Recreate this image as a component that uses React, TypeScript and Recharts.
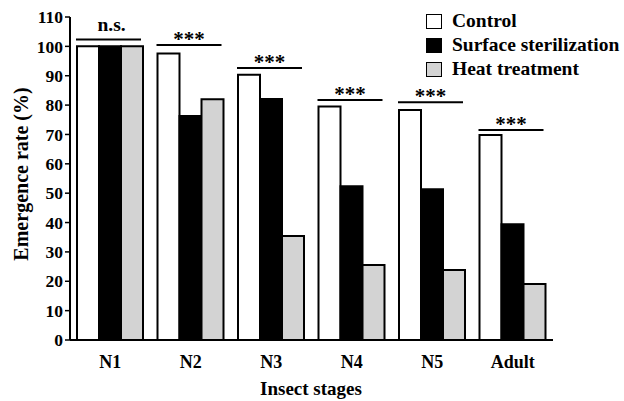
import { BarChart, Bar, XAxis, YAxis, LabelList } from 'recharts'

const stages = ['N1', 'N2', 'N3', 'N4', 'N5', 'Adult']
const control = [100, 97.6, 90.3, 79.5, 78.3, 69.8]
const surface = [100, 76.3, 82.1, 52.4, 51.3, 39.4]
const heat = [100, 82, 35.4, 25.5, 23.8, 19.1]
const sigLabels = ['n.s.', '***', '***', '***', '***', '***']
const sigLevel = [102.3, 100.5, 92.6, 81.7, 81, 71.5]
const yTicks = [0, 10, 20, 30, 40, 50, 60, 70, 80, 90, 100, 110]

const series = [
  { key: 'control', name: 'Control', fill: '#ffffff' },
  { key: 'surface', name: 'Surface sterilization', fill: '#000000' },
  { key: 'heat', name: 'Heat treatment', fill: '#d3d3d3' },
]

const data = stages.map((stage, i) => ({
  stage,
  control: control[i],
  surface: surface[i],
  heat: heat[i],
}))

const FONT = '"Liberation Serif", "Times New Roman", serif'

function SigMark(props: any) {
  const { x, y, width, height, value, index } = props
  const pxPerUnit = height / value
  const lineY = y - (sigLevel[index] - value) * pxPerUnit
  const x1 = x - 1
  const x2 = x + width * 3 - 2
  const cx = (x1 + x2) / 2
  const label = sigLabels[index]
  const isStars = label === '***'
  return (
    <g>
      <line x1={x1} x2={x2} y1={lineY} y2={lineY} stroke="#000" strokeWidth={2} />
      <text
        x={isStars ? cx : cx + 3}
        y={isStars ? lineY + 1 : lineY - 9}
        textAnchor="middle"
        fontFamily={FONT}
        fontWeight="bold"
        fontSize={isStars ? 21 : 19.5}
        fill="#000"
      >
        {label}
      </text>
    </g>
  )
}

function LegendBox() {
  return (
    <div
      style={{
        position: 'absolute',
        top: 9,
        left: 426,
        fontFamily: FONT,
        fontWeight: 'bold',
        fontSize: 19.5,
        color: '#000',
      }}
    >
      {series.map(s => (
        <div key={s.key} style={{ display: 'flex', alignItems: 'center', height: 24 }}>
          <span
            style={{
              display: 'inline-block',
              width: 14,
              height: 13,
              background: s.fill,
              border: '1.5px solid #000',
              marginRight: 10,
            }}
          />
          <span>{s.name}</span>
        </div>
      ))}
    </div>
  )
}

export default function App() {
  return (
    <div style={{ position: 'absolute', left: 0, top: 0, width: 624, height: 401, background: '#fff' }}>
      <BarChart
        width={624}
        height={401}
        data={data}
        margin={{ top: 17, right: 71, bottom: 31, left: 0 }}
        barCategoryGap={7}
        barGap={0}
      >
        <XAxis
          dataKey="stage"
          height={30}
          axisLine={{ stroke: '#000', strokeWidth: 2 }}
          tickLine={false}
          tickMargin={9}
          tick={{ fill: '#000', fontSize: 18, fontWeight: 'bold', fontFamily: FONT }}
          label={{
            content: () => (
              <text x={311} y={395} textAnchor="middle" fontFamily={FONT} fontWeight="bold" fontSize={19} fill="#000">
                Insect stages
              </text>
            ),
          }}
        />
        <YAxis
          width={70}
          domain={[0, 110]}
          ticks={yTicks}
          interval={0}
          axisLine={{ stroke: '#000', strokeWidth: 2 }}
          tickLine={{ stroke: '#000', strokeWidth: 1.5 }}
          tickSize={5}
          tick={{ fill: '#000', fontSize: 17.5, fontWeight: 'bold', fontFamily: FONT }}
          label={{
            content: () => (
              <text
                x={21}
                y={174}
                transform="rotate(-90 21 174)"
                textAnchor="middle"
                dominantBaseline="central"
                fontFamily={FONT}
                fontWeight="bold"
                fontSize={20}
                fill="#000"
              >
                Emergence rate (%)
              </text>
            ),
          }}
        />
        {series.map(s => (
          <Bar
            key={s.key}
            dataKey={s.key}
            name={s.name}
            fill={s.fill}
            stroke="#000"
            strokeWidth={2}
            isAnimationActive={false}
          >
            {s.key === 'control' && <LabelList dataKey="control" content={SigMark} />}
          </Bar>
        ))}
      </BarChart>
      <LegendBox />
    </div>
  )
}
